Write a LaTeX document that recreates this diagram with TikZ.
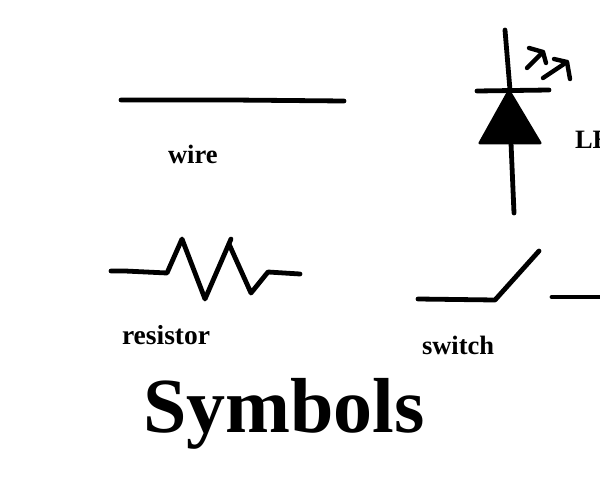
\documentclass[tikz,border=0pt]{standalone}
\usepackage{fontspec}
\setmainfont{Liberation Serif}
\tikzset{
  sym/.style={draw=black,line width=4.8pt,line cap=round,line join=round},
  thinsym/.style={sym,line width=4.4pt},
  lab/.style={anchor=base west,inner sep=0pt,outer sep=0pt,font=\fontsize{26.5}{30}\selectfont\bfseries},
  title/.style={anchor=base west,inner sep=0pt,outer sep=0pt,font=\fontsize{78}{90}\selectfont\bfseries}
}
\begin{document}
\begin{tikzpicture}[x=1pt,y=-1pt]
\useasboundingbox (0,0) rectangle (600,500);
\clip (0,0) rectangle (600,500);
% wire
\draw[sym] (121,100) -- (232,100) -- (344,101);
\node[lab] (wirelab) at (168,164) {wire};
% LED
\draw[sym] (505,30) -- (510,90);
\draw[sym] (477,91) -- (549,90);
\fill[black,draw=black,line width=3pt,line join=round] (509,91) -- (480,143) -- (540,143) -- cycle;
\draw[sym] (511,143) -- (514,213);
\draw[thinsym] (527,68) -- (543,52);
\draw[thinsym] (529,48) -- (543,52) -- (546,63);
\draw[thinsym] (543,78) -- (567,62);
\draw[thinsym] (554,59) -- (567,62) -- (570,79);
\node[lab] (ledlab) at (575,149) {LED};
% resistor
\draw[sym] (111,271) -- (125,271) -- (167,273) -- (182,239) -- (205,299) -- (231,239);
\draw[sym] (229,244) -- (251,293) -- (268,272) -- (300,274);
\node[lab,font=\fontsize{27.5}{30}\selectfont\bfseries] (reslab) at (122,344) {resistor};
% switch
\draw[sym] (418,299) -- (495,300) -- (539,251);
\draw[sym] (552,297) -- (602,297);
\node[lab] (swlab) at (422,354) {switch};
% title
\node[title] (symlab) at (143,432) {Symbols};
\end{tikzpicture}
\end{document}
